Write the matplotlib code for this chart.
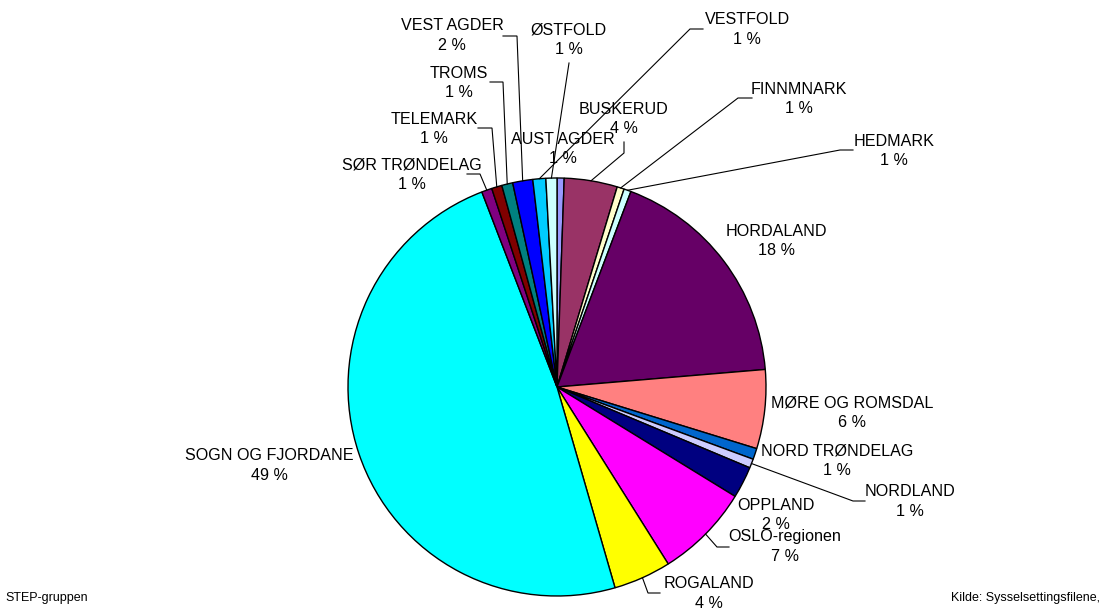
import numpy as np
import matplotlib
matplotlib.use("Agg")
import matplotlib.pyplot as plt

# ---- data ----
categories = ["AUST AGDER", "BUSKERUD", "FINNMNARK", "HEDMARK", "HORDALAND",
              "MØRE OG ROMSDAL", "NORD TRØNDELAG", "NORDLAND", "OPPLAND",
              "OSLO-regionen", "ROGALAND", "SOGN OG FJORDANE", "SØR TRØNDELAG",
              "TELEMARK", "TROMS", "VEST AGDER", "VESTFOLD", "ØSTFOLD"]
shares = [0.55, 4.1, 0.55, 0.55, 17.9, 6.1, 0.85, 0.7, 2.45, 7.3, 4.45,
          48.6, 0.8, 0.8, 0.85, 1.55, 1.0, 0.85]
colors = ["#9999FF", "#993366", "#FFFFCC", "#CCFFFF", "#660066", "#FF8080",
          "#0066CC", "#CCCCFF", "#000080", "#FF00FF", "#FFFF00", "#00FFFF",
          "#800080", "#800000", "#008080", "#0000FF", "#00CCFF", "#CCFFFF"]

# ---- layout (pixel coordinates, y downward) ----
W, H = 1107, 610
cx, cy, R = 557, 387, 209
label_pos = {
    "AUST AGDER": (563, 139), "BUSKERUD": (624, 109), "FINNMNARK": (799, 89),
    "HEDMARK": (894, 141), "HORDALAND": (776, 231), "MØRE OG ROMSDAL": (852, 403),
    "NORD TRØNDELAG": (837, 451), "NORDLAND": (910, 492), "OPPLAND": (776, 505),
    "OSLO-regionen": (785, 537), "ROGALAND": (709, 584), "SOGN OG FJORDANE": (269, 456),
    "SØR TRØNDELAG": (412, 165), "TELEMARK": (434, 119), "TROMS": (459, 73),
    "VEST AGDER": (452, 26), "VESTFOLD": (747, 20), "ØSTFOLD": (569, 30),
}
# leader line: (start, elbow) ; end is computed on the wedge edge
leaders = {
    "VEST AGDER": ((503, 36), (517, 36)), "TROMS": ((490, 82), (503, 82)),
    "TELEMARK": ((478, 128), (492, 128)), "SØR TRØNDELAG": ((467, 174), (480, 174)),
    "ØSTFOLD": ((569, 63), (569, 63)), "VESTFOLD": ((703, 29), (690, 29)),
    "BUSKERUD": ((624, 142), (624, 153)), "FINNMNARK": ((752, 98), (738, 98)),
    "HEDMARK": ((853, 150), (840, 150)), "NORDLAND": ((865, 501), (853, 501)),
    "OSLO-regionen": ((729, 547), (717, 547)), "ROGALAND": ((660, 593), (648, 593)),
}

plt.rcParams['font.family'] = ['Liberation Sans', 'DejaVu Sans']
fig = plt.figure(figsize=(W / 100, H / 100), dpi=100)
ax = fig.add_axes([0, 0, 1, 1])

wedges, _ = ax.pie(shares, colors=colors, startangle=-90, counterclock=True,
                   center=(cx, cy), radius=R, frame=True,
                   wedgeprops=dict(edgecolor='black', linewidth=1.0))
ax.set_xlim(0, W)
ax.set_ylim(H, 0)
ax.set_aspect('equal')
ax.axis('off')

total = sum(shares)
fs = 11.6
for name, w, v in zip(categories, wedges, shares):
    x, y = label_pos[name]
    pct = round(v / total * 100)
    ax.text(x, y, name, ha='center', va='center', fontsize=fs, color='black')
    ax.text(x, y + 19.5, f"{pct:.0f} %", ha='center', va='center', fontsize=fs, color='black')
    if name in leaders:
        (sx, sy), (ex, ey) = leaders[name]
        mid = np.deg2rad((w.theta1 + w.theta2) / 2)
        px = cx + R * np.cos(mid)
        py = cy + R * np.sin(mid)
        ax.plot([sx, ex, px], [sy, ey, py], color='black', linewidth=0.8,
                solid_joinstyle='miter')

ax.text(5, 598, "STEP-gruppen", ha='left', va='center', fontsize=9)
ax.text(1100, 598, "Kilde: Sysselsettingsfilene,", ha='right', va='center', fontsize=9)

fig.savefig("out.png", dpi=100, facecolor='white')
